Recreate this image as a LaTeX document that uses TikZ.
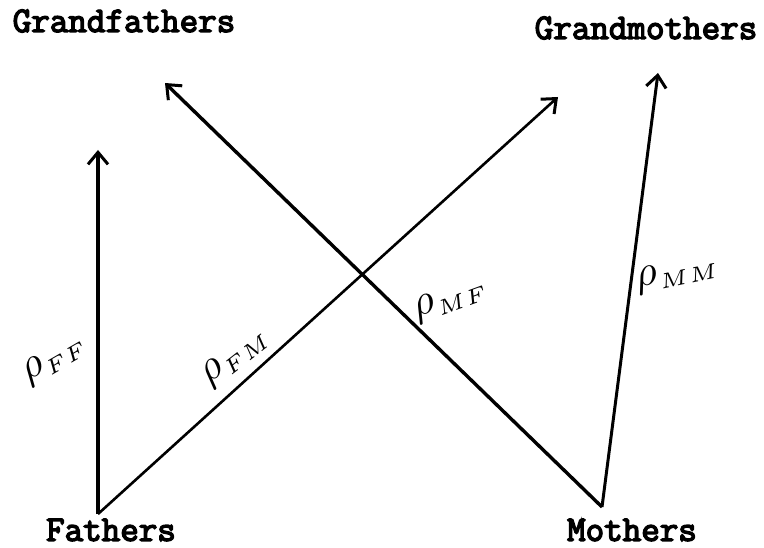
\documentclass[tikz,border=0pt]{standalone}
\usepackage{fontspec}
\newfontfamily\gentt{Latin Modern Mono}[FakeBold=4]
\usepackage{tikz}
\usetikzlibrary{arrows.meta}

\begin{document}
\begin{tikzpicture}[x=1pt, y=-1pt, >={Straight Barb[length=12pt,width=20pt,line width=3pt]},
    gen/.style={font=\gentt\fontsize{36}{36}\selectfont, inner sep=0pt},
    corr/.style={scale=4.3, inner sep=0pt},
    link/.style={->, line width=3.4pt}]
    \useasboundingbox (0,0) rectangle (764,548);
    % generations
    \node[gen] (gf) at (124,21) {Grandfathers};
    \node[gen] (gm) at (646,28) {Grandmothers};
    \node[gen] (fa) at (111,530) {Fathers};
    \node[gen] (mo) at (632,530) {Mothers};
    \coordinate (f) at (98,514);
    \coordinate (m) at (602,507);
    \coordinate (tff) at (98,150);
    \coordinate (tmf) at (165,83);
    \coordinate (tfm) at (558,97);
    \coordinate (tmm) at (658,73);
    % paths
    \draw[link] (f) -- (tff);
    \draw[link] (m) -- (tmf);
    \draw[link, line width=2.6pt] (f) -- (tfm);
    \draw[link, line width=3pt] (m) -- (tmm);
    % correlations
    \node[corr, rotate=30] (rff) at (55,360) {$\rho_{\scriptscriptstyle FF}$};
    \node[corr, rotate=38] (rfm) at (236,357) {$\rho_{\scriptscriptstyle FM}$};
    \node[corr, rotate=20] (rmf) at (451,300) {$\rho_{\scriptscriptstyle MF}$};
    \node[corr, rotate=12] (rmm) at (678,274) {$\rho_{\scriptscriptstyle MM}$};
\end{tikzpicture}
\end{document}
